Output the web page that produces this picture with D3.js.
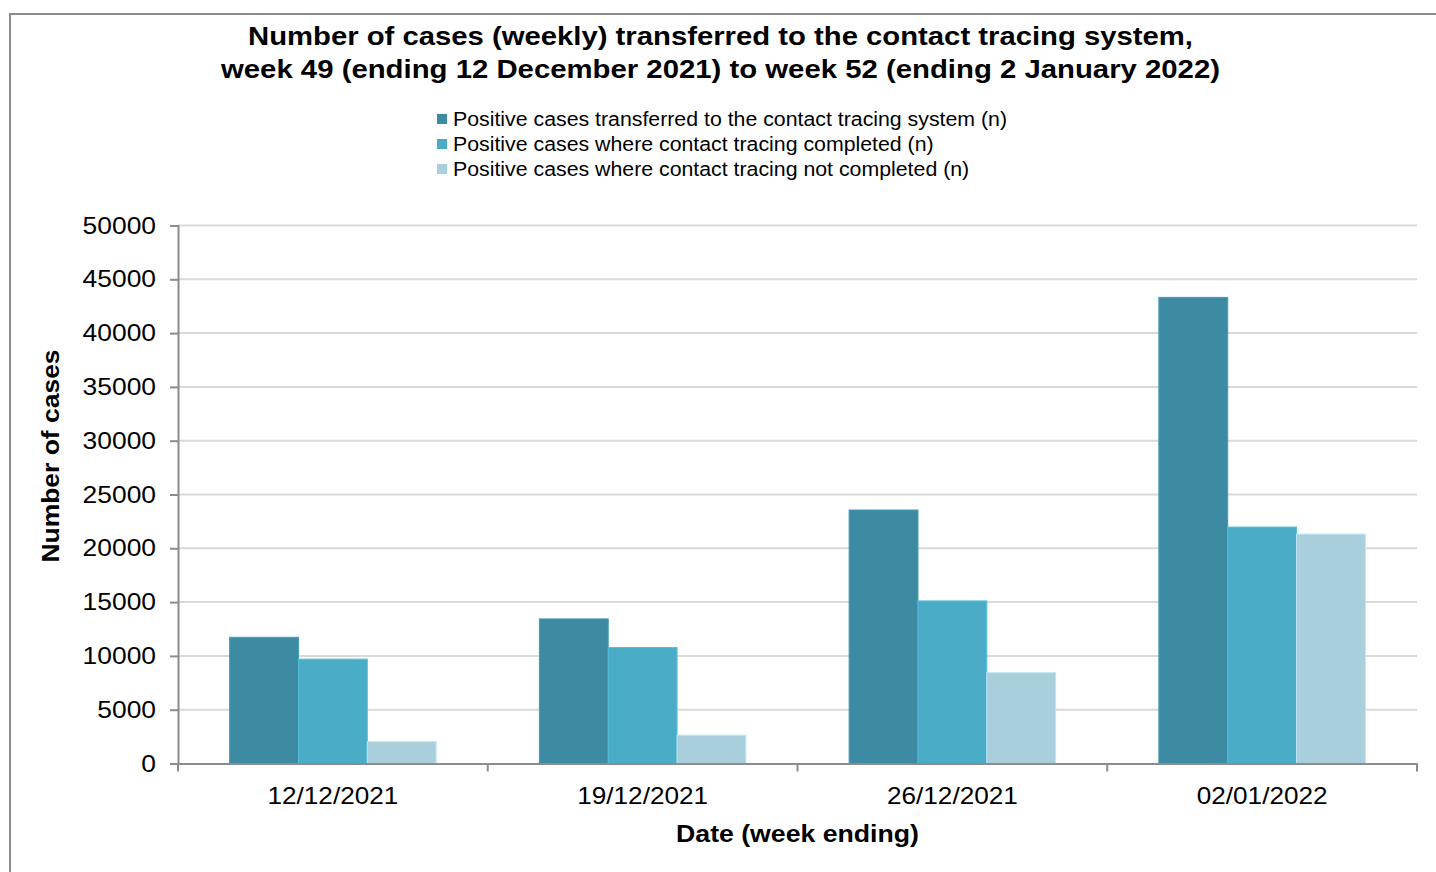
<!DOCTYPE html>
<html>
<head>
<meta charset="utf-8">
<script src="https://cdn.jsdelivr.net/npm/d3@7"></script>
<style>
  body { margin: 0; background: #fff; }
  svg { display: block; font-family: "Liberation Sans", Arial, sans-serif; }
</style>
</head>
<body>
<svg id="chart" width="1436" height="872"></svg>
<script>
// data
let weeks = ['12/12/2021', '19/12/2021', '26/12/2021', '02/01/2022'];
let seriesNames = [
  'Positive cases transferred to the contact tracing system (n)',
  'Positive cases where contact tracing completed (n)',
  'Positive cases where contact tracing not completed (n)'
];
let transferred = [11730, 13440, 23560, 43320];
let completed = [9700, 10780, 15110, 21970];
let notCompleted = [2030, 2630, 8440, 21320];
let yTicks = [0, 5000, 10000, 15000, 20000, 25000, 30000, 35000, 40000, 45000, 50000];

let colours = ['#3d8ba3', '#4aacc6', '#a9cfdc'];

// the original text is drawn a little wider than Arial, stretch to match
function stretch(sel, factor) {
  sel.each(function() {
    let w = this.getComputedTextLength();
    d3.select(this)
      .attr('textLength', w * factor)
      .attr('lengthAdjust', 'spacingAndGlyphs');
  });
}

let svg = d3.select('#chart');

// outer frame
svg.append('path')
  .attr('d', 'M10,872V14H1436')
  .style('fill', 'none')
  .style('stroke', '#8c8c8c')
  .style('stroke-width', '2px');

let plotL = 178, plotR = 1417, plotT = 225.5, plotB = 763.5;

let x = d3.scaleBand().domain(weeks).range([plotL, plotR]);
let xInner = d3.scaleBand().domain([0, 1, 2]).range([0, x.bandwidth()]).paddingOuter(0.75);
let y = d3.scaleLinear().domain([0, 50000]).range([plotB, plotT]);

// gridlines
svg.append('g')
  .selectAll('line')
  .data(yTicks.slice(1))
  .enter()
  .append('line')
  .attr('x1', plotL)
  .attr('x2', plotR)
  .attr('y1', d => y(d))
  .attr('y2', d => y(d))
  .style('stroke', '#d9d9d9')
  .style('stroke-width', '2px');

// bars
let rows = weeks.map((w, i) => ({week: w, vals: [transferred[i], completed[i], notCompleted[i]]}));

let groups = svg.append('g')
  .selectAll('g.week')
  .data(rows)
  .enter()
  .append('g')
  .attr('class', 'week')
  .attr('transform', d => `translate(${x(d.week)},0)`);

groups.selectAll('rect')
  .data(d => d.vals)
  .enter()
  .append('rect')
  .attr('x', (d, i) => xInner(i))
  .attr('width', xInner.bandwidth())
  .attr('y', d => y(d))
  .attr('height', d => y(0) - y(d))
  .style('fill', (d, i) => colours[i])
  .style('stroke', (d, i) => d3.color(colours[i]).brighter(0.3))
  .style('stroke-width', '1px');

// y axis
let yAxis = svg.append('g')
  .attr('transform', `translate(${plotL},0)`)
  .call(d3.axisLeft(y).tickValues(yTicks).tickSize(8).tickPadding(14).tickFormat(d3.format('d')));
yAxis.select('.domain').style('stroke', '#8c8c8c').style('stroke-width', '2px');
yAxis.selectAll('.tick line').style('stroke', '#8c8c8c').style('stroke-width', '2px');
yAxis.selectAll('.tick text')
  .style('font-family', '"Liberation Sans", Arial, sans-serif')
  .style('font-size', '24px')
  .style('fill', '#000')
  .call(stretch, 1.1);

// x axis
let xAxis = svg.append('g')
  .attr('transform', `translate(0,${plotB})`)
  .call(d3.axisBottom(x).tickSize(0).tickPadding(23));
xAxis.select('.domain').style('stroke', '#8c8c8c').style('stroke-width', '2px');
xAxis.selectAll('.tick text')
  .style('font-family', '"Liberation Sans", Arial, sans-serif')
  .style('font-size', '24px')
  .style('fill', '#000')
  .call(stretch, 1.09);

// ticks between categories
svg.append('g')
  .selectAll('line')
  .data(weeks.map(d => x(d)).concat([plotR]))
  .enter()
  .append('line')
  .attr('x1', d => d)
  .attr('x2', d => d)
  .attr('y1', plotB)
  .attr('y2', plotB + 8)
  .style('stroke', '#8c8c8c')
  .style('stroke-width', '2px');

// axis titles
svg.append('text')
  .attr('x', (plotL + plotR) / 2)
  .attr('y', 842)
  .attr('text-anchor', 'middle')
  .style('font-size', '24px')
  .style('font-weight', 'bold')
  .text('Date (week ending)')
  .call(stretch, 1.11);

svg.append('text')
  .attr('transform', 'translate(59,456) rotate(-90)')
  .attr('text-anchor', 'middle')
  .style('font-size', '23px')
  .style('font-weight', 'bold')
  .text('Number of cases')
  .call(stretch, 1.15);

// title
let titleLines = [
  'Number of cases (weekly) transferred to the contact tracing system,',
  'week 49 (ending 12 December 2021) to week 52 (ending 2 January 2022)'
];
let titleWidths = [945, 999];
svg.append('g')
  .selectAll('text')
  .data(titleLines)
  .enter()
  .append('text')
  .attr('x', 720.5)
  .attr('y', (d, i) => 44.5 + i * 33)
  .attr('text-anchor', 'middle')
  .style('font-size', '25px')
  .style('font-weight', 'bold')
  .text(d => d)
  .attr('textLength', (d, i) => titleWidths[i])
  .attr('lengthAdjust', 'spacingAndGlyphs');

// legend
let legend = svg.append('g')
  .selectAll('g')
  .data(seriesNames)
  .enter()
  .append('g')
  .attr('transform', (d, i) => `translate(437,${119 + i * 25})`);

legend.append('rect')
  .attr('x', 0)
  .attr('y', -5)
  .attr('width', 10)
  .attr('height', 10)
  .style('fill', (d, i) => colours[i]);

legend.append('text')
  .attr('x', 16)
  .attr('y', 7)
  .style('font-size', '20px')
  .text(d => d)
  .call(stretch, 1.065);
</script>
</body>
</html>
